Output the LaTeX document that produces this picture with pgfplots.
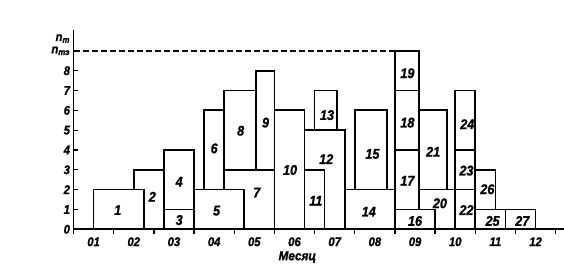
\documentclass[border=0pt]{standalone}
\usepackage{pgfplots}
\pgfplotsset{compat=1.18}
\usepackage{fontspec}
\setmainfont{Liberation Sans}[FakeStretch=0.9, FakeBold=1.2]
\begin{document}
\begin{tikzpicture}[
  box/.style={draw=black, fill=white, line width=1.7pt, line join=miter},
  lbl/.style={font=\fontsize{14}{14}\selectfont\bfseries\itshape, inner sep=0pt}
]
\path[use as bounding box] (-73.5pt,-36.7pt) rectangle (490.5pt,229.3pt);
\begin{axis}[
  anchor=origin, at={(0,0)},
  x=40.18pt, y=19.83pt,
  xmin=0, xmax=12.2, ymin=0, ymax=10.05,
  axis x line=bottom, axis y line=left,
  axis line style={-, line width=1.9pt},
  every outer x axis line/.append style={-},
  every outer y axis line/.append style={-},
  every inner x axis line/.append style={-},
  every inner y axis line/.append style={-},
  xtick={0,1,2,3,4,5,6,7,8,9,10,11,12},
  xticklabels={01,02,03,04,05,06,07,08,09,10,11,12},
  x tick label as interval,
  ytick={0,1,2,3,4,5,6,7,8,9},
  yticklabels={0,1,2,3,4,5,6,7,8,{n\textsubscript{тэ}}},
  xtick align=outside, ytick align=inside,
  major tick length=4.5pt,
  tick style={line width=1.3pt, black},
  ticklabel style={font=\fontsize{12.5}{12.5}\selectfont\bfseries\itshape},
  clip=false,
]
% dashed limit line
\addplot[black, line width=1.4pt, dash pattern=on 6pt off 3pt] coordinates {(0,9) (8,9)};
% bars (drawn in an order so that later ones cover earlier ones)
\addplot[box] coordinates {(1.5,0) (1.5,3) (2.25,3) (2.25,0)} -- cycle;   % 2
\addplot[box] coordinates {(0.5,0) (0.5,2) (1.75,2) (1.75,0)} -- cycle;   % 1
\addplot[box] coordinates {(2.25,0) (2.25,1) (3,1) (3,0)} -- cycle;       % 3
\addplot[box] coordinates {(2.25,1) (2.25,4) (3,4) (3,1)} -- cycle;       % 4
\addplot[box] coordinates {(3.75,0) (3.75,3) (5,3) (5,0)} -- cycle;       % 7
\addplot[box] coordinates {(3,0) (3,2) (4.25,2) (4.25,0)} -- cycle;       % 5
\addplot[box] coordinates {(3.25,2) (3.25,6) (3.75,6) (3.75,2)} -- cycle; % 6
\addplot[box] coordinates {(3.75,3) (3.75,7) (4.55,7) (4.55,3)} -- cycle; % 8
\addplot[box] coordinates {(4.55,3) (4.55,8) (5,8) (5,3)} -- cycle;       % 9
\addplot[box] coordinates {(5,0) (5,6) (5.75,6) (5.75,0)} -- cycle;       % 10
\addplot[box] coordinates {(5.75,0) (5.75,5) (6.75,5) (6.75,0)} -- cycle; % 12
\addplot[box] coordinates {(5.75,0) (5.75,3) (6.25,3) (6.25,0)} -- cycle; % 11
\addplot[box] coordinates {(6,5) (6,7) (6.55,7) (6.55,5)} -- cycle;       % 13
\addplot[box] coordinates {(6.75,0) (6.75,2) (8,2) (8,0)} -- cycle;       % 14
\addplot[box] coordinates {(7,2) (7,6) (7.8,6) (7.8,2)} -- cycle;         % 15
\addplot[box] coordinates {(8.6,0) (8.6,2) (9.5,2) (9.5,0)} -- cycle;     % 20
\addplot[box] coordinates {(8,0) (8,1) (9,1) (9,0)} -- cycle;             % 16
\addplot[box] coordinates {(8,1) (8,4) (8.6,4) (8.6,1)} -- cycle;         % 17
\addplot[box] coordinates {(8,4) (8,7) (8.6,7) (8.6,4)} -- cycle;         % 18
\addplot[box] coordinates {(8,7) (8,9) (8.6,9) (8.6,7)} -- cycle;         % 19
\addplot[box] coordinates {(8.6,2) (8.6,6) (9.3,6) (9.3,2)} -- cycle;     % 21
\addplot[box] coordinates {(9.5,0) (9.5,2) (10,2) (10,0)} -- cycle;       % 22
\addplot[box] coordinates {(9.5,2) (9.5,4) (10,4) (10,2)} -- cycle;       % 23
\addplot[box] coordinates {(9.5,4) (9.5,7) (10,7) (10,4)} -- cycle;       % 24
\addplot[box] coordinates {(10,0) (10,1) (10.75,1) (10.75,0)} -- cycle;   % 25
\addplot[box] coordinates {(10,1) (10,3) (10.5,3) (10.5,1)} -- cycle;     % 26
\addplot[box] coordinates {(10.75,0) (10.75,1) (11.5,1) (11.5,0)} -- cycle; % 27
% bar labels
\node[lbl] at (axis cs:1.10,0.97) {1};
\node[lbl] at (axis cs:1.96,1.64) {2};
\node[lbl] at (axis cs:2.63,0.47) {3};
\node[lbl] at (axis cs:2.63,2.40) {4};
\node[lbl] at (axis cs:3.56,0.94) {5};
\node[lbl] at (axis cs:3.50,4.08) {6};
\node[lbl] at (axis cs:4.56,1.85) {7};
\node[lbl] at (axis cs:4.16,4.97) {8};
\node[lbl] at (axis cs:4.78,5.38) {9};
\node[lbl] at (axis cs:5.39,2.99) {10};
\node[lbl] at (axis cs:6.03,1.44) {11};
\node[lbl] at (axis cs:6.29,3.54) {12};
\node[lbl] at (axis cs:6.31,5.76) {13};
\node[lbl] at (axis cs:7.35,0.89) {14};
\node[lbl] at (axis cs:7.44,3.80) {15};
\node[lbl] at (axis cs:8.50,0.42) {16};
\node[lbl] at (axis cs:8.31,2.45) {17};
\node[lbl] at (axis cs:8.31,5.38) {18};
\node[lbl] at (axis cs:8.31,7.87) {19};
\node[lbl] at (axis cs:9.12,1.31) {20};
\node[lbl] at (axis cs:8.95,3.91) {21};
\node[lbl] at (axis cs:9.78,0.97) {22};
\node[lbl] at (axis cs:9.78,2.96) {23};
\node[lbl] at (axis cs:9.80,5.30) {24};
\node[lbl] at (axis cs:10.43,0.42) {25};
\node[lbl] at (axis cs:10.30,2.02) {26};
\node[lbl] at (axis cs:11.17,0.42) {27};
% extra axis texts
\node[anchor=east, inner sep=0.333em, font=\fontsize{12.5}{12.5}\selectfont\bfseries\itshape] at (axis cs:0,9.62) {n\textsubscript{т}};
\node[font=\fontsize{13}{13}\selectfont\bfseries\itshape] at (axis cs:5.57,-1.4) {Месяц};
\end{axis}
\end{tikzpicture}
\end{document}
